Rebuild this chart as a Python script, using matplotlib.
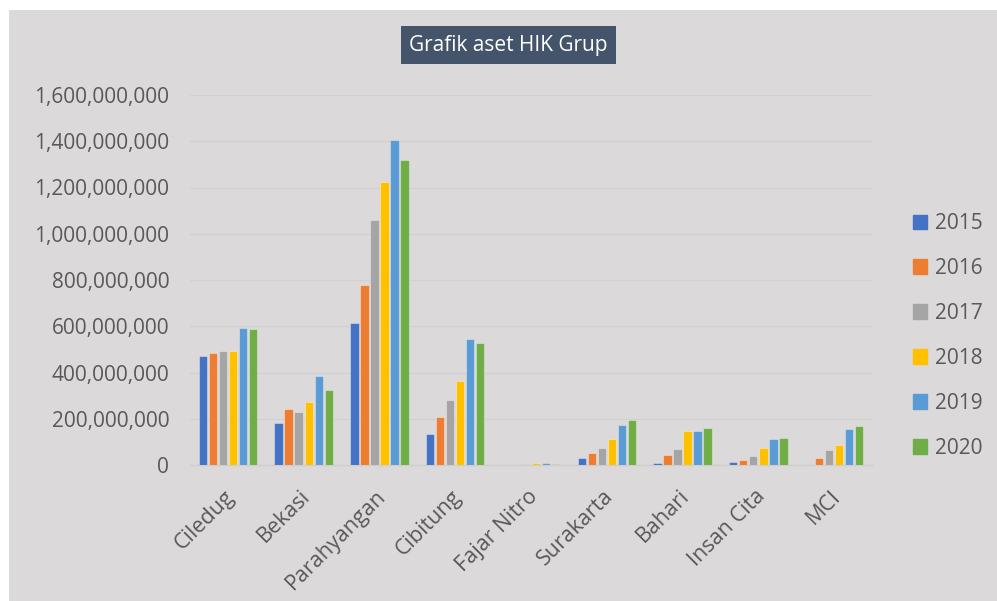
import matplotlib
matplotlib.use("Agg")
import matplotlib.pyplot as plt
import matplotlib.patches as mpatches
import matplotlib.transforms as mtransforms
import numpy as np
from matplotlib.ticker import FuncFormatter

categories = ["Ciledug", "Bekasi", "Parahyangan", "Cibitung", "Fajar Nitro",
              "Surakarta", "Bahari", "Insan Cita", "MCI"]
years = ["2015", "2016", "2017", "2018", "2019", "2020"]
v2015 = [472e6, 183e6, 615e6, 134e6, 1e6, 29e6, 10e6, 13e6, 0]
v2016 = [483e6, 241e6, 778e6, 206e6, 2e6, 50e6, 42e6, 20e6, 30e6]
v2017 = [494e6, 229e6, 1059e6, 281e6, 3e6, 75e6, 68e6, 37e6, 64e6]
v2018 = [491e6, 271e6, 1222e6, 365e6, 7e6, 111e6, 146e6, 73e6, 85e6]
v2019 = [592e6, 385e6, 1407e6, 543e6, 7e6, 171e6, 146e6, 111e6, 157e6]
v2020 = [588e6, 324e6, 1319e6, 526e6, 4e6, 193e6, 162e6, 115e6, 170e6]
series = [v2015, v2016, v2017, v2018, v2019, v2020]
colors = ["#4472C4", "#ED7D31", "#A5A5A5", "#FFC000", "#5B9BD5", "#70AD47"]
yticks = [0, 200e6, 400e6, 600e6, 800e6, 1000e6, 1200e6, 1400e6, 1600e6]

W, H = 997, 601
bg = "#dbd9da"
txt = "#595959"
font = "Open Sans"

fig = plt.figure(figsize=(W / 100, H / 100), dpi=100)
fig.patch.set_facecolor("white")
fig.patches.append(mpatches.Rectangle((9 / W, 0), 1 - 9 / W, 1 - 10 / H,
                                      transform=fig.transFigure, facecolor=bg,
                                      edgecolor="none", zorder=-10))
# title box
fig.patches.append(mpatches.Rectangle((401 / W, 1 - 64 / H), 215 / W, 38 / H,
                                      transform=fig.transFigure,
                                      facecolor="#44546A", edgecolor="none",
                                      zorder=-5))

ax = fig.add_axes([190 / W, 136 / H, (872 - 190) / W, 370 / H])
ax.patch.set_alpha(0)

x = np.arange(len(categories))
pitch = 0.132
width = 0.11
for i, (vals, c) in enumerate(zip(series, colors)):
    ax.bar(x + (i - 2.5) * pitch, vals, width, color=c,
           edgecolor=(1, 1, 1, 0.35), linewidth=0.8, zorder=3, label=years[i])

ax.set_xlim(-0.5, len(categories) - 0.5)
ax.set_ylim(0, 1600e6)
ax.set_yticks(yticks)
ax.yaxis.set_major_formatter(FuncFormatter(lambda v, p: f"{int(v):,}"))
ax.grid(axis="y", color="#d2d1d2", linewidth=1, zorder=0)
for s in ["top", "right", "left"]:
    ax.spines[s].set_visible(False)
ax.spines["bottom"].set_color("#cfcecf")
ax.spines["bottom"].set_linewidth(1)
ax.tick_params(axis="both", length=0, colors=txt, labelsize=15)
ax.tick_params(axis="y", pad=15)
ax.set_xticks(x)
ax.set_xticklabels(categories, rotation=45, ha="right", va="top",
                   rotation_mode="anchor", fontsize=15.5, color=txt, family=font)
ax.tick_params(axis="x", pad=15)
shift = mtransforms.ScaledTranslation(-4 / 100, 0, fig.dpi_scale_trans)
for lab in ax.get_xticklabels():
    lab.set_transform(lab.get_transform() + shift)
for lab in ax.get_yticklabels():
    lab.set_family(font)

# legend
handles = [mpatches.Patch(color=c, label=y) for c, y in zip(colors, years)]
leg = fig.legend(handles=handles, loc="center left",
                 bbox_to_anchor=(894 / W, 1 - 336 / H), frameon=False,
                 prop={"family": font, "size": 15}, labelcolor=txt,
                 handlelength=0.7, handleheight=0.7, handletextpad=0.35,
                 labelspacing=1.15)

# title
fig.text(508 / W, 1 - 45 / H, "Grafik aset HIK Grup", ha="center", va="center",
         color="white", fontsize=15, family=font)

fig.savefig("out.png", dpi=100, facecolor=fig.get_facecolor())
